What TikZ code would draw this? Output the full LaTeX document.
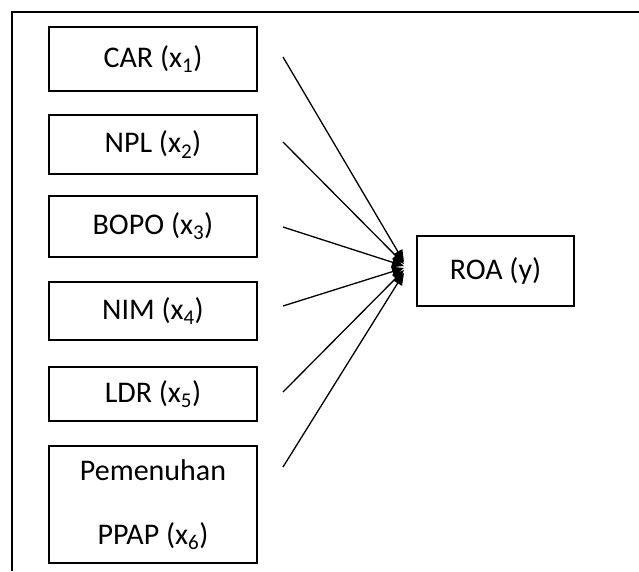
\documentclass[tikz,border=0pt]{standalone}
\usepackage{fontspec}
\setmainfont{Carlito}
\usetikzlibrary{arrows.meta, positioning}

\begin{document}
\begin{tikzpicture}[x=1pt, y=-1pt,
    every node/.style={font=\fontsize{30}{64}\selectfont},
    box/.style={draw, line width=1.6pt, minimum width=208pt, inner sep=0pt},
    frame/.style={line width=1.6pt},
    arr/.style={-{Triangle[length=12pt, width=10pt]}, line width=1.3pt}
]
    \useasboundingbox (0,0) rectangle (639,571);
    \draw[frame] (12,571) -- (12,12) -- (639,12);

    \node[box, minimum height=64pt]  (car)  at (153, 59)    {CAR (x\textsubscript{1})};
    \node[box, minimum height=59pt]  (npl)  at (153, 144.5) {NPL (x\textsubscript{2})};
    \node[box, minimum height=61pt]  (bopo) at (153, 226.5) {BOPO (x\textsubscript{3})};
    \node[box, minimum height=58pt]  (nim)  at (153, 311)   {NIM (x\textsubscript{4})};
    \node[box, minimum height=54pt]  (ldr)  at (153, 394)   {LDR (x\textsubscript{5})};
    \node[box, minimum height=117pt, align=center] (ppap) at (153, 504.5)
        {Pemenuhan\\PPAP (x\textsubscript{6})};
    \node[box, minimum width=157pt, minimum height=70pt] (roa) at (495.5, 271) {ROA (y)};

    % arrow ends
    \foreach \n/\sy/\ty in {1/57/262, 2/142/264, 3/227/266, 4/306/268, 5/392/270, 6/467/273} {
        \coordinate (s\n) at (283, \sy);
        \coordinate (t\n) at (404, \ty);
        \draw[arr] (s\n) -- (t\n);
    }
\end{tikzpicture}
\end{document}
